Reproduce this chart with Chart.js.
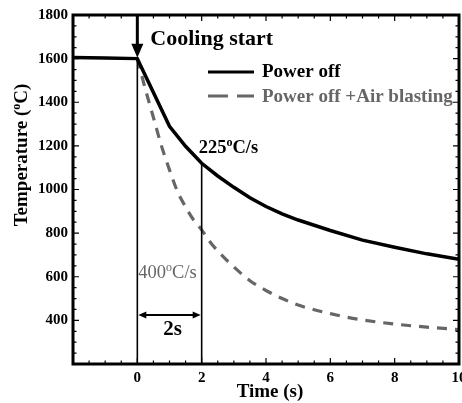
<!DOCTYPE html>
<html>
<head>
<meta charset="utf-8">
<script src="https://cdn.jsdelivr.net/npm/chart.js@4.4.1/dist/chart.umd.min.js"></script>
<style>
  html, body { margin: 0; padding: 0; background: #fff; }
  #wrap { width: 462px; height: 403px; }
</style>
</head>
<body>
<div id="wrap"><canvas id="chart"></canvas></div>
<script>
// values
const timePowerOff = [-2, -1, 0, 1, 1.5, 2, 2.5, 3, 3.5, 4, 4.5, 5, 6, 7, 8, 9, 10];
const tempPowerOff = [1605, 1603, 1600, 1290, 1198, 1120, 1062, 1010, 962, 922, 888, 860, 812, 768, 735, 705, 680];

const timeAirBlast = [0, 0.25, 0.5, 0.75, 1, 1.25, 1.5, 1.75, 2, 2.25, 2.5, 3, 3.5, 4, 4.5, 5, 5.5, 6, 6.5, 7, 8, 9, 10];
const tempAirBlast = [1600, 1460, 1330, 1200, 1090, 990, 920, 860, 815, 762, 718, 645, 582, 537, 500, 470, 449, 431, 415, 402, 383, 369, 358];

const xTickLabels = [0, 2, 4, 6, 8, 10];
const yTickLabels = [400, 600, 800, 1000, 1200, 1400, 1600, 1800];

const coolingStart = 0;
const spanEnd = 2;
const spanTemp = 425;
const rateTempAt2s = 1120;

const SERIF = '"Liberation Serif", "Times New Roman", serif';
const AIR_GRAY = '#666';

function font(size, bold) {
    return (bold ? 'bold ' : '') + size + 'px ' + SERIF;
}

// text with a raised small "o" for the degree sign
function degText(ctx, before, after, x, y, size, bold, color) {
    ctx.fillStyle = color;
    ctx.textBaseline = 'alphabetic';
    ctx.textAlign = 'left';
    ctx.font = font(size, bold);
    ctx.fillText(before, x, y);
    x += ctx.measureText(before).width;
    ctx.font = font(Math.round(size * 0.65), bold);
    ctx.fillText('o', x, y - size * 0.38);
    x += ctx.measureText('o').width;
    ctx.font = font(size, bold);
    ctx.fillText(after, x, y);
}

function arrowHead(ctx, x, y, dx, dy, len, half) {
    // tip at (x, y), pointing in direction (dx, dy)
    ctx.beginPath();
    ctx.moveTo(x, y);
    ctx.lineTo(x - dx * len - dy * half, y - dy * len + dx * half);
    ctx.lineTo(x - dx * len + dy * half, y - dy * len - dx * half);
    ctx.closePath();
    ctx.fill();
}

const decorations = {
    id: 'decorations',
    afterDraw(chart) {
        const { ctx, chartArea: a, scales: { x, y } } = chart;
        ctx.save();

        // inward tick marks
        ctx.strokeStyle = '#000';
        ctx.lineWidth = 1.2;
        ctx.beginPath();
        for (let v = y.min; v <= y.max; v += 50) {
            const py = y.getPixelForValue(v);
            const len = v % 200 === 0 ? 6 : 3.5;
            ctx.moveTo(a.left, py); ctx.lineTo(a.left + len, py);
            ctx.moveTo(a.right, py); ctx.lineTo(a.right - len, py);
        }
        for (let v = x.min; v <= x.max; v += 0.5) {
            const px = x.getPixelForValue(v);
            const len = v % 2 === 0 ? 6 : 3.5;
            ctx.moveTo(px, a.bottom); ctx.lineTo(px, a.bottom - len);
            ctx.moveTo(px, a.top); ctx.lineTo(px, a.top + len);
        }
        ctx.stroke();

        // frame
        ctx.lineWidth = 3;
        ctx.strokeRect(a.left, a.top, a.right - a.left, a.bottom - a.top);

        // x tick labels
        ctx.fillStyle = '#000';
        ctx.font = font(15, true);
        ctx.textAlign = 'center';
        ctx.textBaseline = 'middle';
        xTickLabels.forEach(v => ctx.fillText(String(v), x.getPixelForValue(v), a.bottom + 14));

        // axis titles
        ctx.font = font(19, true);
        ctx.textBaseline = 'alphabetic';
        ctx.fillText('Time (s)', (a.left + a.right) / 2 + 4, 397);

        ctx.save();
        ctx.translate(27, 155);
        ctx.rotate(-Math.PI / 2);
        ctx.font = font(19, true);
        const t1 = 'Temperature (', t2 = 'C)';
        const w1 = ctx.measureText(t1).width, w3 = ctx.measureText(t2).width;
        ctx.font = font(12, true);
        const w2 = ctx.measureText('o').width;
        degText(ctx, t1, t2, -(w1 + w2 + w3) / 2, 0, 19, true, '#000');
        ctx.restore();

        // cooling start arrow and vertical guides
        const x0 = x.getPixelForValue(coolingStart);
        const x2 = x.getPixelForValue(spanEnd);
        const yStart = y.getPixelForValue(1600);
        ctx.strokeStyle = '#000';
        ctx.fillStyle = '#000';
        ctx.lineWidth = 3;
        ctx.beginPath();
        ctx.moveTo(x0, a.top);
        ctx.lineTo(x0, yStart - 10);
        ctx.stroke();
        arrowHead(ctx, x0, yStart - 1, 0, 1, 14, 6);

        ctx.lineWidth = 1.6;
        ctx.beginPath();
        ctx.moveTo(x0, yStart);
        ctx.lineTo(x0, a.bottom);
        ctx.moveTo(x2, y.getPixelForValue(rateTempAt2s));
        ctx.lineTo(x2, a.bottom);
        ctx.stroke();

        // 2 s span arrow
        const ys = y.getPixelForValue(spanTemp);
        ctx.lineWidth = 2;
        ctx.beginPath();
        ctx.moveTo(x0 + 4, ys);
        ctx.lineTo(x2 - 4, ys);
        ctx.stroke();
        arrowHead(ctx, x0 + 1, ys, -1, 0, 8, 3.5);
        arrowHead(ctx, x2 - 1, ys, 1, 0, 8, 3.5);

        // texts
        ctx.font = font(22, true);
        ctx.textAlign = 'left';
        ctx.fillText('Cooling start', x0 + 13, a.top + 30);
        ctx.font = font(21, true);
        ctx.fillText('2s', x0 + 26, ys + 20);
        degText(ctx, '225', 'C/s', x2 - 3, 153, 18.5, true, '#000');
        degText(ctx, '400', 'C/s', x0 + 1, 278, 18.5, false, AIR_GRAY);

        // legend
        ctx.lineWidth = 3;
        ctx.strokeStyle = '#000';
        ctx.beginPath();
        ctx.moveTo(208, 72); ctx.lineTo(254, 72);
        ctx.stroke();
        ctx.strokeStyle = AIR_GRAY;
        ctx.setLineDash([20, 9]);
        ctx.beginPath();
        ctx.moveTo(208, 96); ctx.lineTo(254, 96);
        ctx.stroke();
        ctx.setLineDash([]);
        ctx.font = font(19, true);
        ctx.fillStyle = '#000';
        ctx.fillText('Power off', 262, 77);
        ctx.fillStyle = AIR_GRAY;
        ctx.font = font(19, true);
        ctx.fillText('Power off +Air blasting', 262, 102);

        ctx.restore();
    },
};

new Chart(document.getElementById('chart'), {
    type: 'scatter',
    data: {
        datasets: [
            {
                label: 'Power off',
                data: timePowerOff.map((t, i) => ({ x: t, y: tempPowerOff[i] })),
                showLine: true,
                borderColor: '#000',
                borderWidth: 3.5,
                tension: 0,
                pointRadius: 0,
                order: 1,
            },
            {
                label: 'Power off +Air blasting',
                data: timeAirBlast.map((t, i) => ({ x: t, y: tempAirBlast[i] })),
                showLine: true,
                borderColor: AIR_GRAY,
                borderWidth: 3.2,
                borderDash: [10, 8],
                cubicInterpolationMode: 'monotone',
                pointRadius: 0,
                order: 2,
            },
        ],
    },
    options: {
        responsive: true,
        maintainAspectRatio: false,
        animation: false,
        layout: { padding: { top: 15, right: 3, left: 0, bottom: 0 } },
        plugins: { legend: { display: false }, tooltip: { enabled: false } },
        scales: {
            x: {
                type: 'linear',
                min: -2,
                max: 10,
                grid: { display: false, drawTicks: false },
                border: { display: false },
                ticks: { display: false },
                afterFit: s => { s.height = 39; },
            },
            y: {
                min: 200,
                max: 1800,
                grid: { display: false, drawTicks: false },
                border: { display: false },
                ticks: {
                    stepSize: 200,
                    padding: 5,
                    color: '#000',
                    font: { family: SERIF, size: 15, weight: 'bold' },
                    callback: v => (yTickLabels.includes(v) ? String(v) : ''),
                },
                afterFit: s => { s.width = 73; },
            },
        },
    },
    plugins: [decorations],
});
</script>
</body>
</html>
